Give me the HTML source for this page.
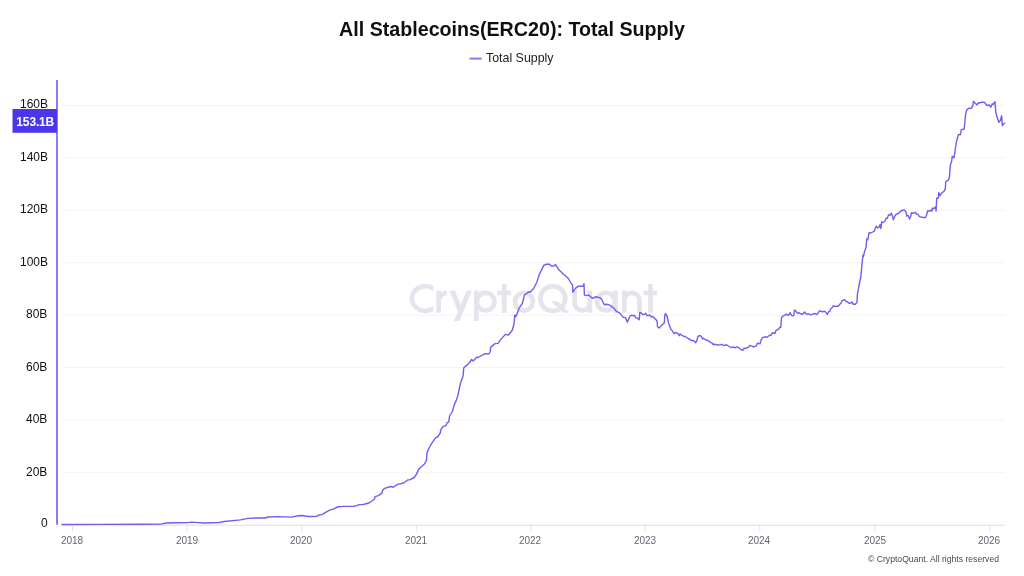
<!DOCTYPE html>
<html><head><meta charset="utf-8"><title>All Stablecoins(ERC20): Total Supply</title>
<style>
html,body{margin:0;padding:0;background:#fff;}
body{width:1024px;height:576px;position:relative;overflow:hidden;font-family:"Liberation Sans",sans-serif;}
.t{position:absolute;white-space:nowrap;line-height:1;will-change:transform;}
.title{left:0;width:1024px;text-align:center;top:19.6px;font-size:19.67px;font-weight:bold;color:#0f0f0f;}
.legend{left:485.5px;top:51.5px;font-size:12.4px;color:#222;}
.yl{right:976.4px;font-size:12px;color:#111;text-align:right;}
.xl{font-size:10px;color:#646472;width:40px;margin-left:-20px;text-align:center;top:535.5px;}
.badge{left:12.5px;width:44.5px;text-align:center;top:116.4px;font-size:12px;font-weight:bold;color:#fff;letter-spacing:-0.15px;}
.copy{right:25.3px;top:554.6px;font-size:8.65px;color:#4a4a4a;}
</style></head><body>
<svg width="1024" height="576" viewBox="0 0 1024 576" style="position:absolute;left:0;top:0">
<line x1="62" x2="1005" y1="105.5" y2="105.5" stroke="#f4f4f6" stroke-width="1"/>
<line x1="62" x2="1005" y1="157.9" y2="157.9" stroke="#f4f4f6" stroke-width="1"/>
<line x1="62" x2="1005" y1="210.3" y2="210.3" stroke="#f4f4f6" stroke-width="1"/>
<line x1="62" x2="1005" y1="262.7" y2="262.7" stroke="#f4f4f6" stroke-width="1"/>
<line x1="62" x2="1005" y1="315.1" y2="315.1" stroke="#f4f4f6" stroke-width="1"/>
<line x1="62" x2="1005" y1="367.5" y2="367.5" stroke="#f4f4f6" stroke-width="1"/>
<line x1="62" x2="1005" y1="419.9" y2="419.9" stroke="#f4f4f6" stroke-width="1"/>
<line x1="62" x2="1005" y1="472.3" y2="472.3" stroke="#f4f4f6" stroke-width="1"/>
<line x1="62" x2="1005" y1="525.2" y2="525.2" stroke="#dddde7" stroke-width="1"/>
<line x1="72.5" x2="72.5" y1="525.5" y2="531" stroke="#e0e0ea" stroke-width="1"/>
<line x1="187.1" x2="187.1" y1="525.5" y2="531" stroke="#e0e0ea" stroke-width="1"/>
<line x1="301.7" x2="301.7" y1="525.5" y2="531" stroke="#e0e0ea" stroke-width="1"/>
<line x1="416.3" x2="416.3" y1="525.5" y2="531" stroke="#e0e0ea" stroke-width="1"/>
<line x1="530.8" x2="530.8" y1="525.5" y2="531" stroke="#e0e0ea" stroke-width="1"/>
<line x1="645.3" x2="645.3" y1="525.5" y2="531" stroke="#e0e0ea" stroke-width="1"/>
<line x1="759.8" x2="759.8" y1="525.5" y2="531" stroke="#e0e0ea" stroke-width="1"/>
<line x1="874.6" x2="874.6" y1="525.5" y2="531" stroke="#e0e0ea" stroke-width="1"/>
<line x1="989.6" x2="989.6" y1="525.5" y2="531" stroke="#e0e0ea" stroke-width="1"/>
<defs><clipPath id="cC"><rect x="400" y="280" width="33.3" height="40"/></clipPath><clipPath id="cR"><rect x="430" y="285" width="16.8" height="30"/></clipPath><clipPath id="cY"><rect x="440" y="290.5" width="40" height="30.4"/></clipPath></defs>
<g id="wm" fill="none" stroke="#e4e4ed" stroke-width="4.7">
<path d="M439.15 298.6 A13.6 12.35 0 1 1 439.15 298.59" clip-path="url(#cC)"/>
<path d="M438.65 290.5 V312.8" />
<path d="M438.65 301.2 A8.35 8.35 0 0 1 449 293.1" clip-path="url(#cR)"/>
<path d="M450.15 285.5 L461.2 312.6" clip-path="url(#cY)" stroke-width="5.1"/>
<path d="M471.35 285.5 L455.1 325" clip-path="url(#cY)" stroke-width="5.1"/>
<path d="M476.35 290.5 V321" />
<path d="M494.45 301.65 A8.8 8.8 0 1 1 476.85 301.65 A8.8 8.8 0 1 1 494.45 301.65" />
<path d="M504.25 283.9 V312.8" />
<path d="M497.2 292.85 H510.9" />
<path d="M532.8 301.65 A8.9 8.9 0 1 1 515 301.65 A8.9 8.9 0 1 1 532.8 301.65" />
<path d="M565.25 298.55 A12.45 12.45 0 1 1 540.35 298.55 A12.45 12.45 0 1 1 565.25 298.55" />
<path d="M574.65 290.5 V302.8 A7.625 7.625 0 0 0 589.9 302.8" />
<path d="M589.9 290.5 V312.8" />
<path d="M615.3 290.5 V312.8" />
<path d="M614.9 301.65 A8.9 8.9 0 1 1 597.1 301.65 A8.9 8.9 0 1 1 614.9 301.65" />
<path d="M624.3 290.5 V312.8" />
<path d="M624.3 300.45 A7.6 7.6 0 0 1 639.5 300.45 V312.8" />
<path d="M650.5 283.9 V312.8" />
<path d="M643.4 292.85 H657.1" />
<path d="M550.9 301.2 H557.5 L569.6 312.7 H562.8 Z" fill="#e4e4ed" stroke="none"/>
</g>
<rect x="56" y="80" width="2" height="444.7" fill="#897cf3"/>
<path d="M61.90 524.50 L100.00 524.40 L140.00 524.20 L161.00 524.10 L166.00 523.00 L176.00 522.70 L188.00 522.60 L191.75 522.10 L204.25 523.00 L219.25 522.50 L224.25 521.50 L240.50 519.90 L248.00 518.40 L255.50 518.00 L265.50 518.00 L268.00 517.00 L278.00 516.60 L291.75 517.10 L298.00 515.75 L301.75 515.50 L308.00 516.50 L312.00 516.50 L317.00 516.25 L318.25 515.25 L322.00 514.60 L328.25 510.90 L330.75 509.60 L333.25 509.10 L338.25 506.75 L343.25 506.40 L353.25 506.40 L357.00 505.60 L358.90 504.60 L363.25 504.50 L369.50 502.75 L373.25 500.00 L374.50 499.00 L375.10 496.60 L378.25 495.60 L382.00 493.10 L382.60 490.25 L384.50 488.40 L390.75 486.50 L393.25 487.25 L397.60 484.40 L403.25 483.25 L407.60 480.00 L410.10 479.60 L413.90 477.75 L416.40 474.40 L418.90 469.00 L420.00 468.00 L424.40 464.10 L426.50 460.40 L426.90 453.50 L428.10 449.75 L431.25 444.10 L435.25 438.10 L437.50 437.00 L440.00 433.50 L441.00 429.50 L443.10 426.60 L446.25 425.40 L446.90 422.90 L448.75 421.90 L449.60 416.00 L452.50 411.25 L454.00 405.40 L456.25 400.40 L457.75 396.00 L460.60 382.75 L463.10 375.90 L463.75 367.75 L467.50 364.60 L470.00 362.10 L471.50 359.40 L473.10 360.90 L476.90 357.10 L478.10 357.50 L485.00 353.60 L488.75 354.00 L490.25 351.50 L490.60 347.40 L495.00 343.60 L498.10 343.40 L500.60 339.60 L505.40 334.40 L508.50 335.00 L512.25 330.25 L514.00 324.00 L514.75 315.10 L516.00 316.40 L519.40 307.60 L522.50 303.25 L524.40 295.10 L528.75 291.75 L530.00 292.25 L533.75 288.25 L536.90 282.00 L539.00 275.10 L543.75 265.40 L546.25 264.25 L549.40 264.10 L551.25 266.00 L553.75 266.00 L555.60 264.50 L558.10 268.90 L563.75 274.50 L568.00 278.00 L571.75 284.25 L572.60 285.10 L572.80 292.20 L575.50 288.40 L578.40 286.10 L580.50 286.30 L583.00 286.20 L584.00 283.70 L584.40 295.10 L587.60 295.50 L588.70 294.90 L592.60 298.40 L595.90 296.75 L599.70 297.60 L601.75 299.25 L604.25 304.70 L606.75 304.25 L609.70 305.10 L611.30 306.30 L612.20 307.20 L613.40 307.60 L616.30 311.30 L618.00 312.20 L620.10 313.40 L623.00 317.20 L625.50 317.60 L627.30 322.20 L630.20 315.80 L631.80 315.25 L633.50 315.80 L634.50 315.20 L635.60 317.50 L636.80 317.90 L639.20 319.80 L639.75 312.50 L641.00 312.75 L642.70 314.60 L644.75 314.30 L645.80 313.30 L647.25 315.80 L649.75 315.00 L651.40 317.10 L652.80 316.40 L654.30 317.90 L657.00 320.80 L657.50 326.70 L659.20 327.90 L661.40 325.60 L664.30 322.90 L664.90 314.60 L665.60 313.60 L667.25 316.70 L668.50 322.90 L671.00 329.60 L671.80 330.00 L673.90 333.50 L676.00 332.50 L678.10 333.90 L679.30 335.70 L680.00 334.00 L682.70 335.80 L685.20 336.50 L688.50 338.75 L690.00 339.40 L690.90 340.30 L693.80 340.80 L695.70 342.70 L697.00 340.30 L697.60 337.25 L698.80 335.75 L700.50 335.75 L701.75 337.25 L702.60 338.90 L703.40 338.30 L705.90 340.00 L707.60 340.40 L710.50 342.40 L711.75 342.80 L713.40 344.75 L714.70 344.10 L717.20 345.00 L719.70 344.90 L721.75 344.30 L723.80 345.60 L726.50 344.75 L728.80 346.25 L730.90 347.50 L733.40 346.80 L735.10 347.90 L737.30 346.80 L739.70 348.50 L741.30 349.75 L743.00 350.30 L744.00 348.30 L745.50 348.50 L746.75 347.70 L748.40 347.50 L749.70 345.40 L752.00 346.20 L753.75 347.00 L756.50 345.60 L757.50 343.10 L760.00 343.90 L760.80 340.60 L762.50 337.70 L765.00 336.80 L767.10 337.25 L769.60 335.20 L770.80 335.60 L772.50 332.70 L775.00 333.25 L775.80 330.60 L778.75 329.10 L779.75 327.25 L780.80 327.25 L781.40 318.10 L782.50 316.40 L784.60 315.30 L786.25 314.10 L787.50 315.30 L789.20 314.50 L790.25 312.70 L791.40 315.30 L792.70 315.80 L793.90 315.30 L794.40 310.30 L795.25 310.30 L796.70 312.25 L797.90 313.30 L799.20 312.70 L800.40 313.70 L802.50 314.20 L804.60 312.00 L805.70 313.50 L807.10 314.20 L809.00 313.90 L810.80 314.90 L814.00 313.70 L815.30 313.50 L817.00 314.50 L818.25 312.80 L819.50 310.75 L822.40 311.80 L824.50 311.30 L825.75 312.00 L827.25 314.50 L828.70 311.60 L829.90 311.20 L830.75 308.80 L832.00 307.80 L833.25 305.75 L835.30 306.60 L836.20 306.20 L838.25 306.30 L839.90 304.10 L840.75 303.50 L842.00 300.75 L844.70 299.70 L846.20 301.60 L847.40 301.75 L849.10 303.25 L850.30 303.25 L851.80 302.00 L853.25 304.25 L855.30 304.25 L857.00 302.40 L857.40 294.50 L858.70 287.00 L859.70 282.00 L860.75 277.25 L862.50 259.50 L862.90 255.10 L863.50 256.40 L864.40 252.00 L866.10 247.30 L866.70 239.00 L867.75 239.80 L869.00 232.75 L870.70 233.00 L874.40 231.10 L875.70 226.90 L876.30 226.30 L877.75 228.00 L879.00 227.30 L880.00 224.70 L880.80 228.60 L881.70 221.90 L883.20 222.50 L884.80 221.50 L886.10 218.20 L887.30 218.30 L888.60 214.80 L890.00 215.25 L891.25 213.20 L892.50 216.10 L893.40 219.80 L894.40 217.30 L895.40 214.80 L899.00 213.00 L901.50 210.25 L902.75 210.70 L904.00 209.80 L906.10 211.90 L906.70 216.10 L908.20 215.50 L909.60 219.00 L910.70 216.50 L911.50 212.75 L912.75 213.30 L915.25 212.30 L916.90 214.20 L918.00 214.40 L919.40 216.60 L922.30 217.25 L925.25 217.70 L926.50 215.30 L927.75 210.75 L929.40 211.00 L931.10 210.20 L931.90 211.20 L932.50 208.00 L933.60 208.70 L935.50 207.00 L936.10 211.00 L936.70 198.25 L938.20 198.25 L938.80 192.40 L939.80 195.75 L941.50 193.25 L944.00 191.20 L945.25 189.10 L945.80 181.60 L948.60 179.90 L949.40 177.00 L949.90 170.50 L950.50 164.40 L951.60 161.70 L952.20 156.30 L954.10 157.60 L955.50 147.50 L956.60 141.00 L958.50 134.40 L960.20 134.80 L961.40 129.70 L964.20 129.00 L965.60 114.00 L966.80 109.70 L968.90 108.30 L971.40 108.20 L972.80 105.70 L973.50 101.30 L974.75 102.75 L977.00 105.00 L978.30 102.75 L979.30 103.00 L981.00 102.30 L984.30 102.30 L987.25 105.70 L988.90 104.80 L990.80 107.20 L992.25 103.80 L993.30 104.40 L995.00 101.70 L995.80 111.90 L996.80 116.30 L998.90 122.30 L1000.20 120.70 L1001.70 115.80 L1002.25 125.70 L1003.50 124.00 L1004.60 123.20" fill="none" stroke="#6f5ff0" stroke-width="1.4" stroke-linejoin="round" stroke-linecap="round"/>
<rect x="12.5" y="109" width="44.5" height="23.8" fill="#4c36e9"/>
<rect x="469.5" y="57.6" width="12.3" height="2" fill="#897cf3"/>
</svg>
<div class="t title">All Stablecoins(ERC20): Total Supply</div>
<div class="t legend">Total Supply</div>
<div class="t yl" style="top:98px">160B</div>
<div class="t yl" style="top:151px">140B</div>
<div class="t yl" style="top:203px">120B</div>
<div class="t yl" style="top:256px">100B</div>
<div class="t yl" style="top:308px">80B</div>
<div class="t yl" style="top:361px">60B</div>
<div class="t yl" style="top:413px">40B</div>
<div class="t yl" style="top:466px">20B</div>
<div class="t yl" style="top:517px">0</div>
<div class="t xl" style="left:72px">2018</div>
<div class="t xl" style="left:187px">2019</div>
<div class="t xl" style="left:301px">2020</div>
<div class="t xl" style="left:416px">2021</div>
<div class="t xl" style="left:530px">2022</div>
<div class="t xl" style="left:645px">2023</div>
<div class="t xl" style="left:759px">2024</div>
<div class="t xl" style="left:875px">2025</div>
<div class="t xl" style="left:989px">2026</div>
<div class="t badge">153.1B</div>
<div class="t copy">&copy; CryptoQuant. All rights reserved</div>
</body></html>
